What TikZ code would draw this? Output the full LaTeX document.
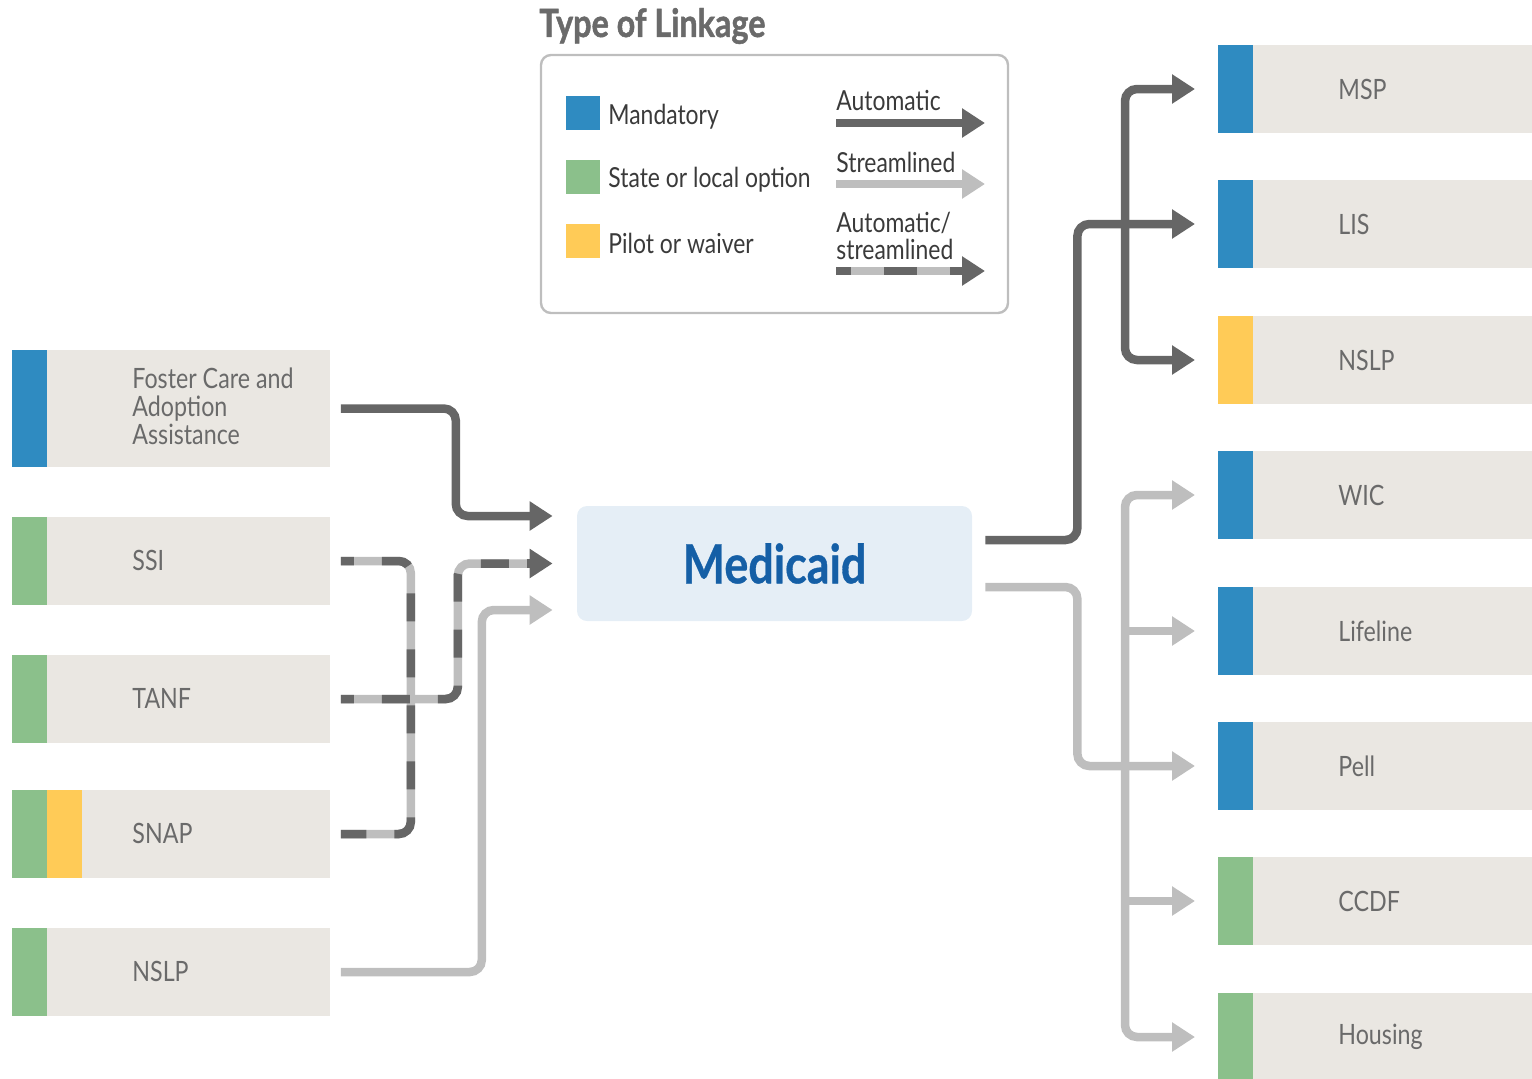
\documentclass[tikz,border=0pt]{standalone}
\usepackage{fontspec}
\setmainfont{Lato}[FakeStretch=0.83, BoldFont={Lato Bold}]
\newfontfamily\headfont{Lato Bold}[FakeStretch=0.83, FakeBold=1.2]
\newfontfamily\medfont{Lato Bold}[FakeStretch=0.83, FakeBold=0.6]
\usetikzlibrary{arrows.meta}

\definecolor{mblue}{HTML}{2F8BC1}
\definecolor{sgreen}{HTML}{8BC08B}
\definecolor{pyellow}{HTML}{FFCB57}
\definecolor{boxgray}{HTML}{EAE7E2}
\definecolor{dkline}{HTML}{666666}
\definecolor{ltline}{HTML}{BEBEBE}
\definecolor{lbltext}{HTML}{6A6A6A}
\definecolor{legtext}{HTML}{3A3A3A}
\definecolor{medfill}{HTML}{E5EEF6}
\definecolor{medtext}{HTML}{155FA6}

\tikzset{
  lbox/.style={fill=boxgray, minimum width=159pt, minimum height=44pt, inner sep=0pt, anchor=west},
  rbox/.style={fill=boxgray, minimum width=157pt, minimum height=44pt, inner sep=0pt, anchor=west},
  lbl/.style={anchor=west, inner sep=0pt, text=lbltext, font=\fontsize{14}{14}\selectfont, align=left},
  leg/.style={anchor=west, inner sep=0pt, text=legtext, font=\fontsize{13.8}{13.5}\selectfont, align=left},
  swatch/.style={minimum size=17pt, inner sep=0pt},
  dk/.style={draw=dkline, line width=4.25pt, rounded corners=6pt},
  lt/.style={draw=ltline, line width=4.25pt, rounded corners=6pt},
  dkdash/.style={draw=dkline, line width=4.25pt, rounded corners=6pt, dash pattern=on 14pt off 14pt, dash phase=7.5pt},
  arr/.style={-{Triangle[length=11.5pt,width=14pt]}},
  arrboth/.style={{Triangle[length=11.5pt,width=14pt]}-{Triangle[length=11.5pt,width=14pt]}},
}

\begin{document}
\begin{tikzpicture}[x=0.5pt,y=-0.5pt]
\useasboundingbox (0,0) rectangle (1532,1078);

% ---------- legend ----------
\node[anchor=west, inner sep=0pt, text=lbltext, font=\headfont\fontsize{19.5}{19.5}\selectfont] (title) at (539,26) {Type of Linkage};
\node[draw=ltline, line width=1.2pt, rounded corners=5pt, minimum width=233.5pt, minimum height=129pt, inner sep=0pt] (legend) at (774.5,184) {};

\node[swatch, fill=mblue] (sw1) at (583,113) {};
\node[swatch, fill=sgreen] (sw2) at (583,177) {};
\node[swatch, fill=pyellow] (sw3) at (583,241) {};
\node[leg] (sl1) at (608,117) {Mandatory};
\node[leg] (sl2) at (608,180) {State or local option};
\node[leg] (sl3) at (608,243) {Pilot or waiver};

\node[leg] (al1) at (836,100) {Automatic};
\node[leg] (al2) at (836,162) {Streamlined};
\node[leg] (al3) at (836,236) {Automatic/\\streamlined};
\coordinate (a1s) at (836,123); \coordinate (a1e) at (985,123);
\coordinate (a2s) at (836,184); \coordinate (a2e) at (985,184);
\coordinate (a3s) at (836,271); \coordinate (a3m) at (962,271); \coordinate (a3e) at (985,271);
\draw[dk, arr] (a1s) -- (a1e);
\draw[lt, arr] (a2s) -- (a2e);
\draw[lt] (a3s) -- (a3m);
\draw[dkdash, dash pattern=on 16.5pt off 16.5pt, dash phase=9pt] (a3s) -- (a3m);
\draw[dk, arr] ([xshift=-2pt]a3m) -- (a3e);

% ---------- Medicaid ----------
\node[fill=medfill, rounded corners=5pt, minimum width=197.5pt, minimum height=57.5pt, inner sep=0pt,
      text=medtext, font=\medfont\fontsize{27}{27}\selectfont] (med) at (774.5,563.5) {Medicaid};

% ---------- left programs ----------
\node[lbox, minimum height=58.5pt] (foster) at (12,408.5) {};
\node[lbox] (ssi) at (12,561) {};
\node[lbox] (tanf) at (12,699) {};
\node[lbox] (snap) at (12,834) {};
\node[lbox] (nslpL) at (12,972) {};
\fill[mblue] (foster.north west) rectangle ([xshift=17.5pt]foster.south west);
\fill[sgreen] (ssi.north west) rectangle ([xshift=17.5pt]ssi.south west);
\fill[sgreen] (tanf.north west) rectangle ([xshift=17.5pt]tanf.south west);
\fill[sgreen] (snap.north west) rectangle ([xshift=17.5pt]snap.south west);
\fill[pyellow] ([xshift=17.5pt]snap.north west) rectangle ([xshift=35pt]snap.south west);
\fill[sgreen] (nslpL.north west) rectangle ([xshift=17.5pt]nslpL.south west);
\node[lbl] (fosterT) at (132,406) {Foster Care and\\Adoption\\Assistance};
\node[lbl] (ssiT) at (132,560) {SSI};
\node[lbl] (tanfT) at (132,698) {TANF};
\node[lbl] (snapT) at (132,833) {SNAP};
\node[lbl] (nslpLT) at (132,971) {NSLP};

% ---------- right programs ----------
\foreach \n/\y/\c/\t in {msp/89/mblue/MSP, lis/224/mblue/LIS, nslpR/360/pyellow/NSLP,
    wic/495/mblue/WIC, lifeline/631/mblue/Lifeline, pell/766/mblue/Pell,
    ccdf/901/sgreen/CCDF, housing/1037/sgreen/Housing}{
  \node[rbox] (\n) at (1218,\y) {};
  \fill[\c] (\n.north west) rectangle ([xshift=17.5pt]\n.south west);
  \node[lbl] (\n T) at (1338,\y) {\t};
}

% ---------- connectors into Medicaid ----------
\coordinate (in1) at ([xshift=-12pt,yshift=23.75pt]med.west);
\coordinate (in2) at ([xshift=-12pt]med.west);
\coordinate (in3) at ([xshift=-12pt,yshift=-23.25pt]med.west);

\draw[dk, arr] ([xshift=5pt]foster.east) -- ++(115,0) |- (in1);

% SSI / SNAP bracket joining the TANF line
\draw[lt] ([xshift=5pt]ssi.east) -- ++(70,0) |- ([xshift=5pt]snap.east);
\draw[dkdash] ([xshift=5pt]ssi.east) -- ++(70,0) |- ([xshift=5pt]snap.east);
\draw[lt] ([xshift=5pt]tanf.east) -- ++(117,0) |- ([xshift=-10.5pt]in2);
\draw[dkdash] ([xshift=5pt]tanf.east) -- ++(117,0) |- ([xshift=-10.5pt]in2);
\draw[dk, arr] ([xshift=-13pt]in2) -- (in2);

\draw[lt, arr] ([xshift=5pt]nslpL.east) -- ++(141,0) |- (in3);

% ---------- connectors out of Medicaid ----------
\coordinate (out1) at ([xshift=6.5pt,yshift=11.75pt]med.east);
\coordinate (out2) at ([xshift=6.5pt,yshift=-11.75pt]med.east);

\draw[dk, arrboth] ([xshift=-11.5pt]msp.west) -- ++(-70,0) |- ([xshift=-11.5pt]nslpR.west);
\draw[dk, arr] (out1) -- ++(92,0) |- ([xshift=-11.5pt]lis.west);

\draw[lt, arrboth] ([xshift=-11.5pt]wic.west) -- ++(-70,0) |- ([xshift=-11.5pt]housing.west);
\draw[lt, arr] ([xshift=-48.5pt]lifeline.west) -- ([xshift=-11.5pt]lifeline.west);
\draw[lt, arr] ([xshift=-48.5pt]ccdf.west) -- ([xshift=-11.5pt]ccdf.west);
\draw[lt, arr] (out2) -- ++(92,0) |- ([xshift=-11.5pt]pell.west);
\end{tikzpicture}
\end{document}
